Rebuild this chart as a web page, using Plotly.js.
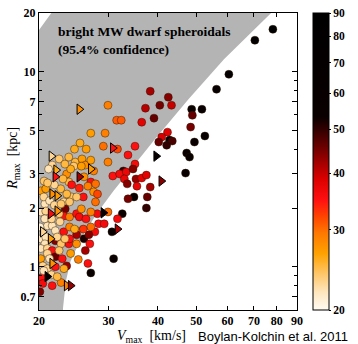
<!DOCTYPE html>
<html>
<head>
<meta charset="utf-8">
<script src="https://cdn.plot.ly/plotly-3.0.1.min.js"></script>
<style>html,body{margin:0;padding:0;background:#fff;}#chart{width:358px;height:344px;}</style>
</head>
<body>
<div id="chart"></div>
<script>
// ---- data ----
// circles: Vmax [km/s], Rmax [kpc], colour value (km/s)
var circVmax = [78.2,70.4,60.5,56.3,48.7,51.7,48.9,48.4,52.6,49.5,47.3,48.1,47.0,42.5,43.3,40.45,38.25,37.2,39.1,36.4,42.3,40.9,40.2,42.8,43.5,42.1,
  29.9,31.45,32.3,29.4,27.05,29.1,31.6,35.0,33.6,29.9,35.0,25.4,
  32.7,30.75,32.0,33.26,34.6,32.9,35.2,36.4,37.4,38.25,35.4,33.45,34.8,33.6,37.6,37.4,32.5,31.6,29.9,28.1,28.3,29.25,30.6,30.9,27.05,26.0,26.2,25.15,27.7,26.9,26.75,
  21.6,21.15,24.7,25.7,26.2,27.05,24.5,25.6,23.5,23.8,24.2,26.0,27.5,27.05,26.6,25.3,25.9,27.5,27.8,20.2,20.8,24.2,24.9,23.1,23.9,20.7,20.2,20.8,23.3,23.1,23.9,24.9,25.3,26.3,27.05,21.0,21.6,22.6,22.0,23.1,23.9,24.9,27.05,24.9,20.6,22.7,
  20.2,20.8,22.0,20.7,20.2,21.0,21.6,21.0,20.2,20.45,21.0,22.0,22.0,22.9,23.5,23.8,23.9,24.9,26.6,20.3,20.45,21.6,22.75,20.1,
  20.57,21.27,21.87,22.49,20.68,21.51,22.24,22.74,21.27,22.49,20.57,21.51,22.24,23.13,20.11,22.74,23.52,23.26,24.05,24.6,21.87,21.03,23.0,24.05,22.49,23.26,26.33,24.6,23.79,27.82,28.13,25.9,25.6];
var circRmax = [16.5,14.5,9.70,8.13,6.42,6.42,5.98,5.20,4.68,4.36,3.83,3.65,3.02,7.40,6.73,6.73,7.94,6.50,5.78,5.51,4.90,4.62,4.36,4.46,4.41,4.20,
  6.73,5.64,5.64,4.84,4.84,4.15,4.01,4.15,3.74,3.44,3.36,4.31,
  3.10,2.92,2.99,3.06,3.17,2.82,2.82,2.85,2.95,2.56,2.59,2.66,2.28,2.23,2.28,2.00,1.87,1.76,1.91,1.87,1.66,1.66,1.51,1.10,0.93,1.39,1.21,1.09,1.51,1.31,1.46,
  3.32,3.17,3.44,3.57,3.32,3.52,3.28,3.28,2.99,2.72,2.63,2.89,3.10,2.72,2.59,2.53,2.28,2.42,2.15,2.45,2.51,2.28,2.28,2.15,2.15,2.10,1.91,1.93,1.98,1.82,1.80,1.87,1.80,1.76,1.91,1.62,1.62,1.70,1.53,1.51,1.60,1.53,1.60,1.46,2.75,2.51,
  1.39,1.42,1.36,1.31,1.24,1.24,1.21,1.17,1.10,1.01,0.977,1.125,1.00,1.10,1.01,1.31,1.39,1.31,1.04,0.88,0.82,0.80,0.83,0.745,
  2.28,2.18,2.07,1.87,1.76,1.76,1.42,1.31,1.10,1.21,0.954,0.910,0.889,0.977,1.60,2.10,2.36,1.39,1.17,1.56,2.63,2.69,2.82,3.17,3.57,3.36,4.01,4.01,3.65,2.66,2.36,1.56,1.98];
var circColor = [85,80,70,65,60,60,46,45,58,56,55,55,56,44,40,45,42,41,46,38,38,39,46,56,48,50,
  29,31,31,29,27,30,32,35,35,29,36,26,
  50,35,36,37,44,37,43,38,38,42,37,44,56,45,46,50,56,36,30,36,35,36,58,60,55,52,42,29,36,35,44,
  23,22,25,27,28,27,24,27,28,25,35,28,29,35,29,34,35,28,30,27,27,24,24,23,24,22,22,23,45,35,29,35,36,35,29,22,22,23,22,35,29,29,30,42,24,25,
  22,22,44,22,22,23,35,23,27,23,23,46,35,35,43,35,35,28,35,35,36,35,29,44,
  23,22,23,24,22,23,23,24,22,24,22,23,25,26,21,24,25,24,27,26,23,24,25,26,24,25,27,26,25,30,32,33,28];

// triangles
var triVmax = [25.3,30.75,21.5,27.05,22.1,22.0,25.3,21.6,22.25,21.4,22.25,20.45,21.4,21.6,21.0,23.5,24.05,39.6,40.8,29.1,31.6];
var triRmax = [6.42,4.06,3.69,3.17,3.13,2.89,2.89,2.36,2.31,1.87,1.93,1.51,1.39,1.04,0.89,0.80,0.80,3.69,2.75,1.89,1.56];
var triColor = [28,35,23,27,26,35,42,28,27,36,28,23,27,28,58,29,43,60,44,55,42];

// grey 95.4% region boundary (Vmax, Rmax)
var regionV = [19, 23.0, 23.0, 23.4, 24.05, 25.6, 28.1, 30.9, 34.2, 39.3, 47.8, 58.8, 77.4, 80, 22.24, 19];
var regionR = [0.5, 0.5, 0.61, 0.848, 1.07, 1.41, 1.89, 2.45, 3.17, 4.51, 7.22, 11.57, 20, 22, 22, 14.2];

var xTicks = [20,30,40,50,60,70,80,90];
var yTicks = [0.7,1,2,3,5,7,10,20];
var yMinor = [0.6,0.8,0.9,4,6,8,9];
var cbTicks = [20,30,40,50,60,70,80,90];

// ---- drawing ----
var lg = function(a){return a.map(function(v){return Math.log10(v);});};
var serif = 'Liberation Serif, Times New Roman, serif';

var grey = {x: regionV, y: regionR, type:'scatter', mode:'lines', fill:'toself',
  fillcolor:'#b4b4b4', line:{width:0, color:'#b4b4b4'}, hoverinfo:'skip', showlegend:false};

var circles = {x: circVmax, y: circRmax, type:'scatter', mode:'markers', showlegend:false,
  marker:{symbol:'circle', size:8, color: lg(circColor), coloraxis:'coloraxis',
    line:{width:0.6, color:'rgba(40,20,0,0.75)'}}};

var tris = {x: triVmax, y: triRmax, type:'scatter', mode:'markers', showlegend:false,
  marker:{symbol:'triangle-right', size:9, color: lg(triColor), coloraxis:'coloraxis',
    line:{width:1, color:'#000'}}};

var layout = {
  width:358, height:344,
  margin:{l:39, r:50, t:13, b:34},
  paper_bgcolor:'#fff', plot_bgcolor:'#fff',
  font:{family:serif, color:'#000'},
  xaxis:{type:'log', range:[Math.log10(20), Math.log10(90)], tickvals:xTicks,
    ticktext: xTicks.map(String), ticks:'inside', ticklen:4, tickwidth:1, tickcolor:'#000',
    showline:true, linecolor:'#000', linewidth:1, mirror:'ticks', showgrid:false, zeroline:false,
    tickfont:{family:serif, size:12, weight:'bold', color:'#000'}},
  yaxis:{type:'log', range:[Math.log10(0.6), Math.log10(20)], tickvals:yTicks,
    ticktext: yTicks.map(String), ticks:'inside', ticklen:5, tickwidth:1, tickcolor:'#000',
    minor:{tickvals:yMinor, ticks:'inside', ticklen:3, tickcolor:'#000', showgrid:false},
    showline:true, linecolor:'#000', linewidth:1, mirror:'ticks', showgrid:false, zeroline:false,
    tickfont:{family:serif, size:12, weight:'bold', color:'#000'}},
  coloraxis:{cmin:Math.log10(20), cmax:Math.log10(90),
    colorscale:[[0,'#fffbf2'],[0.06,'#ffe6bd'],[0.12,'#ffc76c'],[0.19,'#ffa200'],[0.26,'#ff7800'],
      [0.31,'#ff4800'],[0.37,'#ff1010'],[0.44,'#dc0000'],[0.49,'#aa0000'],[0.55,'#6a0000'],
      [0.60,'#3a0000'],[0.65,'#0a0000'],[1,'#000000']],
    colorbar:{x:1.063, xanchor:'left', xpad:0, ypad:0, y:0.5, yanchor:'middle', len:1, lenmode:'fraction',
      thickness:16, outlinecolor:'#000', outlinewidth:1,
      tickvals: lg(cbTicks), ticktext: cbTicks.map(String), ticks:'outside', ticklen:2, tickcolor:'#000',
      tickfont:{family:serif, size:11.5, weight:'bold', color:'#000'}}},
  annotations:[
    {xref:'paper', yref:'paper', x:0.067, y:0.906, xanchor:'left', yanchor:'middle', align:'left', showarrow:false,
      text:'bright MW dwarf spheroidals<br>(95.4% confidence)', font:{family:serif, size:13.5, weight:'bold', color:'#000'}},
    {xref:'paper', yref:'paper', x:0.435, y:-0.088, xanchor:'center', yanchor:'middle', showarrow:false,
      text:'<i>V</i><sub>max</sub>  [km/s]', font:{family:serif, size:14, color:'#000'}},
    {xref:'paper', yref:'paper', x:0.607, y:-0.088, xanchor:'left', yanchor:'middle', showarrow:false,
      text:'Boylan-Kolchin et al. 2011', font:{family:'Liberation Sans, Arial, sans-serif', size:13, color:'#000'}},
    {xref:'paper', yref:'paper', x:-0.1, y:0.51, xanchor:'center', yanchor:'middle', showarrow:false, textangle:-90,
      text:'<i>R</i><sub>max</sub>  [kpc]', font:{family:serif, size:14, color:'#000'}}
  ]
};

Plotly.newPlot('chart', [grey, circles, tris], layout, {displayModeBar:false, staticPlot:true});
</script>
</body>
</html>
